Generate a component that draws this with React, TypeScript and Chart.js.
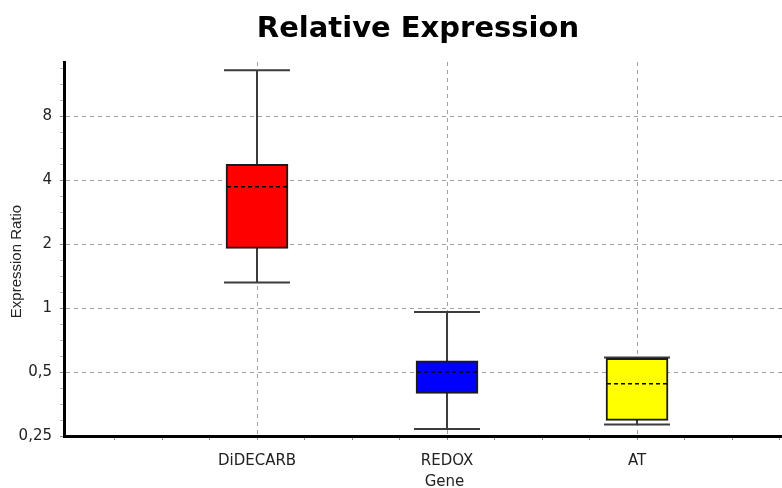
import React, { useEffect, useRef } from 'react';
import { Chart, registerables } from 'chart.js';

Chart.register(...registerables);

// ---- data ----
const genes = ['DiDECARB', 'REDOX', 'AT'];
const whiskerHigh = [13.2, 0.96, 0.586];
const q3 = [4.75, 0.565, 0.58];
const medians = [3.73, 0.5, 0.44];
const q1 = [1.91, 0.397, 0.296];
const whiskerLow = [1.32, 0.27, 0.283];
const boxColors = ['#ff0000', '#0000ff', '#ffff00'];
const yTickValues = [0.25, 0.5, 1, 2, 4, 8];
const yTickLabels = ['0,25', '0,5', '1', '2', '4', '8'];
const yMin = 0.25;
const yMax = 14.42;
const xMin = -0.0158;
const xMax = 3.763;

const isMajorY = (v: number) => yTickValues.some((t) => Math.abs(t - v) < 1e-6);
const isMajorX = (v: number) => Math.abs(v - Math.round(v)) < 1e-6 && v >= 1 && v <= genes.length;

const boxPlugin = {
  id: 'boxWhiskers',
  beforeDatasetsDraw(chart: any) {
    const { ctx, scales } = chart;
    const x = scales.x;
    const y = scales.y;
    ctx.save();
    ctx.strokeStyle = '#3c3c3c';
    ctx.lineWidth = 2;
    genes.forEach((_, i) => {
      const cx = x.getPixelForValue(i + 1);
      const yh = y.getPixelForValue(whiskerHigh[i]);
      const yl = y.getPixelForValue(whiskerLow[i]);
      ctx.beginPath();
      ctx.moveTo(cx, yh);
      ctx.lineTo(cx, yl);
      ctx.moveTo(cx - 33, yh);
      ctx.lineTo(cx + 33, yh);
      ctx.moveTo(cx - 33, yl);
      ctx.lineTo(cx + 33, yl);
      ctx.stroke();
    });
    ctx.restore();
  },
  afterDatasetsDraw(chart: any) {
    const { ctx, scales } = chart;
    const x = scales.x;
    const y = scales.y;
    ctx.save();
    ctx.strokeStyle = '#000000';
    ctx.lineWidth = 1.5;
    ctx.setLineDash([4, 3]);
    genes.forEach((_, i) => {
      const cx = x.getPixelForValue(i + 1);
      const ym = y.getPixelForValue(medians[i]);
      ctx.beginPath();
      ctx.moveTo(cx - 30, ym);
      ctx.lineTo(cx + 30, ym);
      ctx.stroke();
    });
    ctx.restore();
  },
};

export default function App() {
  const canvasRef = useRef<HTMLCanvasElement | null>(null);

  useEffect(() => {
    if (!canvasRef.current) return;
    const chart = new Chart(canvasRef.current, {
      type: 'bar',
      data: {
        datasets: [
          {
            data: genes.map((g, i) => ({ x: i + 1, y: [q1[i], q3[i]] })) as any,
            backgroundColor: boxColors,
            borderColor: '#1a1a1a',
            borderWidth: 2,
            borderSkipped: false,
            barThickness: 62,
          },
        ],
      },
      options: {
        responsive: false,
        animation: false,
        devicePixelRatio: 1,
        layout: { padding: 0 },
        plugins: {
          legend: { display: false },
          tooltip: { enabled: false },
          title: {
            display: true,
            text: 'Relative Expression ',
            fullSize: false,
            color: '#000000',
            font: { family: '"DejaVu Sans", sans-serif', size: 29, weight: 'bold', lineHeight: 1.2 },
            padding: { top: 12.5, bottom: 14.7 },
          },
        },
        scales: {
          x: {
            type: 'linear',
            offset: false,
            min: xMin,
            max: xMax,
            afterBuildTicks: (scale: any) => {
              const t = [];
              for (let k = 1; k <= 15; k++) t.push({ value: k * 0.25 });
              scale.ticks = t;
            },
            afterFit: (scale: any) => {
              scale.height = 52;
              scale.paddingLeft = 0;
              scale.paddingRight = 0;
            },
            ticks: {
              autoSkip: false,
              maxRotation: 0,
              padding: 12,
              color: '#222222',
              font: { family: '"DejaVu Sans", sans-serif', size: 15 },
              callback: (v: any) => (isMajorX(Number(v)) ? genes[Math.round(Number(v)) - 1] : ''),
            },
            grid: {
              offset: false,
              color: (c: any) => (c.tick && isMajorX(c.tick.value) ? '#a0a0a0' : 'rgba(0,0,0,0)'),
              tickColor: '#8a8a8a',
              tickLength: 4,
              lineWidth: 1,
            },
            border: { display: true, color: '#000000', width: 3, dash: [4, 4] },
            title: {
              display: true,
              text: '         Gene',
              color: '#222222',
              font: { family: '"DejaVu Sans", sans-serif', size: 15, lineHeight: 0.75 },
              padding: { top: 0, bottom: 0 },
            },
          },
          y: {
            type: 'logarithmic',
            min: yMin,
            max: yMax,
            afterBuildTicks: (scale: any) => {
              const t = [];
              for (let k = 0; k < 40; k++) {
                const v = yMin * Math.pow(2, k / 4);
                if (v > yMax) break;
                t.push({ value: v });
              }
              scale.ticks = t;
            },
            afterFit: (scale: any) => {
              scale.width = 64;
            },
            ticks: {
              autoSkip: false,
              padding: 8,
              color: '#222222',
              font: { family: '"DejaVu Sans", sans-serif', size: 15 },
              callback: (v: any) => {
                const idx = yTickValues.findIndex((t) => Math.abs(t - Number(v)) < 1e-6);
                return idx >= 0 ? yTickLabels[idx] : '';
              },
            },
            grid: {
              color: (c: any) => (c.tick && isMajorY(c.tick.value) ? '#a0a0a0' : 'rgba(0,0,0,0)'),
              tickColor: (c: any) => (c.tick && isMajorY(c.tick.value) ? '#8a8a8a' : '#b8b8b8'),
              tickLength: 4,
              lineWidth: 1,
            },
            border: { display: true, color: '#000000', width: 3, dash: [4, 4] },
            title: {
              display: true,
              text: 'Expression Ratio      ',
              color: '#222222',
              font: { family: '"Liberation Sans", Arial, sans-serif', size: 15 },
              padding: { top: 8, bottom: 0 },
            },
          },
        },
      },
      plugins: [boxPlugin],
    } as any);
    return () => chart.destroy();
  }, []);

  return (
    <div style={{ position: 'absolute', left: 0, top: 0, width: 782, height: 488, background: '#ffffff' }}>
      <canvas ref={canvasRef} width={782} height={488} />
    </div>
  );
}
